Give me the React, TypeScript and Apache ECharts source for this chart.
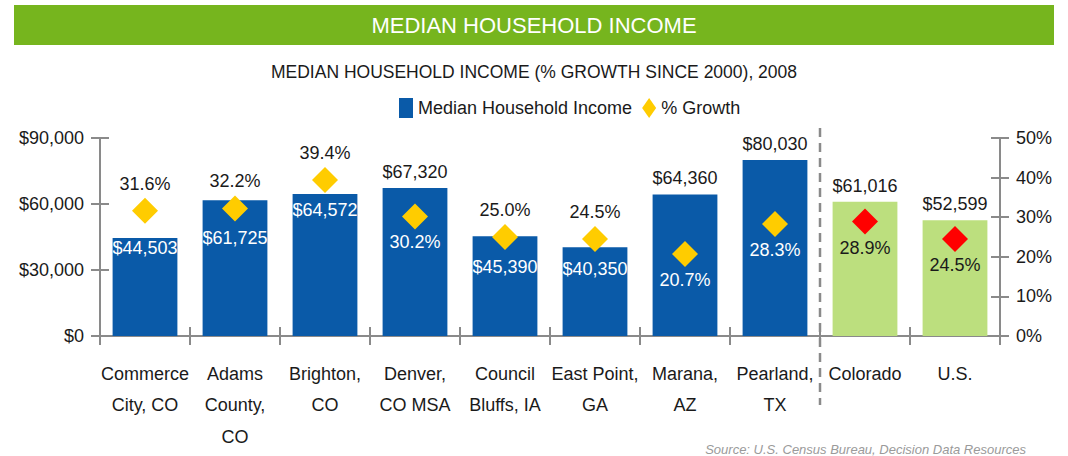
import React, { useEffect, useRef } from "react";
import * as echarts from "echarts";

const categories = [
  "Commerce\nCity, CO",
  "Adams\nCounty,\nCO",
  "Brighton,\nCO",
  "Denver,\nCO MSA",
  "Council\nBluffs, IA",
  "East Point,\nGA",
  "Marana,\nAZ",
  "Pearland,\nTX",
  "Colorado",
  "U.S.",
];
const income = [44503, 61725, 64572, 67320, 45390, 40350, 64360, 80030, 61016, 52599];
const growth = [31.6, 32.2, 39.4, 30.2, 25.0, 24.5, 20.7, 28.3, 28.9, 24.5];
const isBenchmark = [false, false, false, false, false, false, false, false, true, true];
const incomeLabelInside = [true, true, true, false, true, true, false, false, false, false];
const growthLabelAbove = [true, true, true, false, true, true, false, false, false, false];
const incomeTicks = [0, 30000, 60000, 90000];
const growthTicks = [0, 10, 20, 30, 40, 50];

const FONT = "'Liberation Sans Narrow', 'Arial Narrow', 'Liberation Sans', sans-serif";
const BLUE = "#0a5aa8";
const GREEN = "#bcdf7e";
const YELLOW = "#ffcc00";
const RED = "#ff0000";
const AXIS = "#8a8a8a";
const TEXT = "#1a1a1a";
const LABEL_SIZE = 18;
const DIAMOND = 26;

const GRID = { left: 100, right: 68, top: 138, bottom: 120 };

export default function App() {
  const ref = useRef<HTMLDivElement>(null);
  useEffect(() => {
    document.body.style.margin = "0";
    const chart = echarts.init(ref.current!, undefined, { renderer: "svg" });
    const fmtMoney = (v: number) => "$" + Number(v).toLocaleString("en-US");
    const incomeStep = incomeTicks[1] - incomeTicks[0];
    const growthStep = growthTicks[1] - growthTicks[0];
    const commonY = {
      splitLine: { show: false },
      axisLine: { show: true, lineStyle: { color: AXIS, width: 2 } },
      axisTick: { show: true, length: 9, lineStyle: { color: AXIS, width: 2 } },
    };

    const build = (insideDist: number[], dividerX: number | null): any => {
      const graphic: any[] = [
        {
          type: "rect",
          shape: { x: 14, y: 5, width: 1040, height: 40 },
          style: { fill: "#76b51e" },
          silent: true,
        },
        {
          type: "text",
          x: 534,
          y: 25,
          style: {
            text: "MEDIAN HOUSEHOLD INCOME",
            fill: "#ffffff",
            font: `22px ${FONT}`,
            textAlign: "center",
            textVerticalAlign: "middle",
          },
        },
        {
          type: "text",
          right: 42,
          bottom: 0,
          style: {
            text: "Source: U.S. Census Bureau, Decision Data Resources",
            fill: "#9a9a9a",
            font: `italic 13px ${FONT}`,
          },
        },
      ];
      if (dividerX !== null) {
        graphic.push({
          type: "line",
          shape: { x1: dividerX, y1: 128, x2: dividerX, y2: 405 },
          style: { stroke: AXIS, lineWidth: 2.5, lineDash: [9, 6] },
          silent: true,
        });
      }
      return {
        animation: false,
        textStyle: { fontFamily: FONT },
        title: {
          text: "MEDIAN HOUSEHOLD INCOME (% GROWTH SINCE 2000), 2008",
          left: "center",
          top: 58,
          textStyle: { fontFamily: FONT, fontSize: 17.5, fontWeight: "normal", color: TEXT },
        },
        legend: {
          top: 93,
          left: 394,
          itemWidth: 14,
          itemHeight: 20,
          itemGap: 10,
          textStyle: { fontFamily: FONT, fontSize: 18, color: TEXT },
          data: [
            { name: "Median Household Income", icon: "rect" },
            { name: "% Growth", icon: "diamond" },
          ],
        },
        grid: { ...GRID },
        xAxis: [
          {
            type: "category",
            data: categories,
            axisLine: { lineStyle: { color: AXIS, width: 2 } },
            axisTick: { show: true, length: 9, interval: 0, lineStyle: { color: AXIS, width: 2 } },
            axisLabel: {
              interval: 0,
              fontFamily: FONT,
              fontSize: 18,
              lineHeight: 31.5,
              color: TEXT,
              margin: 22,
            },
          },
          {
            type: "category",
            data: categories,
            position: "bottom",
            axisLine: { show: false },
            axisTick: { show: true, inside: true, length: 9, interval: 0, lineStyle: { color: AXIS, width: 2 } },
            axisLabel: { show: false },
          },
        ],
        yAxis: [
          {
            type: "value",
            position: "left",
            min: incomeTicks[0],
            max: incomeTicks[incomeTicks.length - 1],
            interval: incomeStep,
            ...commonY,
            axisLabel: { formatter: fmtMoney, fontFamily: FONT, fontSize: 18, color: TEXT, margin: 16 },
          },
          {
            type: "value",
            position: "right",
            min: growthTicks[0],
            max: growthTicks[growthTicks.length - 1],
            interval: growthStep,
            ...commonY,
            axisLabel: { formatter: "{value}%", fontFamily: FONT, fontSize: 18, color: TEXT, margin: 16 },
          },
          {
            type: "value",
            position: "left",
            min: incomeTicks[0],
            max: incomeTicks[incomeTicks.length - 1],
            interval: incomeStep,
            splitLine: { show: false },
            axisLine: { show: false },
            axisTick: { show: true, inside: true, length: 9, lineStyle: { color: AXIS, width: 2 } },
            axisLabel: { show: false },
          },
          {
            type: "value",
            position: "right",
            min: growthTicks[0],
            max: growthTicks[growthTicks.length - 1],
            interval: growthStep,
            splitLine: { show: false },
            axisLine: { show: false },
            axisTick: { show: true, inside: true, length: 9, lineStyle: { color: AXIS, width: 2 } },
            axisLabel: { show: false },
          },
        ],
        series: [
          {
            name: "Median Household Income",
            type: "bar",
            barCategoryGap: "28%",
            itemStyle: { color: BLUE },
            data: income.map((v, i) => ({
              value: v,
              itemStyle: { color: isBenchmark[i] ? GREEN : BLUE },
              label: incomeLabelInside[i]
                ? { position: "insideTop", distance: insideDist[i], color: "#ffffff" }
                : { position: "top", distance: 7, color: TEXT },
            })),
            label: {
              show: true,
              fontFamily: FONT,
              fontSize: LABEL_SIZE,
              formatter: (p: any) => fmtMoney(p.value),
            },
          },
          {
            name: "% Growth",
            type: "scatter",
            yAxisIndex: 1,
            symbol: "diamond",
            symbolSize: DIAMOND,
            z: 5,
            itemStyle: { color: YELLOW, opacity: 1 },
            data: growth.map((v, i) => ({
              value: v,
              itemStyle: { color: isBenchmark[i] ? RED : YELLOW, opacity: 1 },
              label: growthLabelAbove[i]
                ? { position: "top", distance: 5, color: TEXT }
                : { position: "bottom", distance: 4, color: isBenchmark[i] ? TEXT : "#ffffff" },
            })),
            label: {
              show: true,
              fontFamily: FONT,
              fontSize: LABEL_SIZE,
              formatter: (p: any) => Number(p.value).toFixed(1) + "%",
            },
          },
        ],
        graphic,
      };
    };

    chart.setOption(build(income.map(() => 1), null));
    // Place inside labels below the diamonds, using the axis scales
    const dists = income.map((v, i) => {
      const barTop = chart.convertToPixel({ yAxisIndex: 0 }, v) as number;
      const dia = chart.convertToPixel({ yAxisIndex: 1 }, growth[i]) as number;
      const center = Math.max(barTop + 10, dia + DIAMOND / 2 + 17);
      return Math.max(1, center - LABEL_SIZE / 2 - barTop);
    });
    const a = chart.convertToPixel({ xAxisIndex: 0 }, categories[7]) as number;
    const b = chart.convertToPixel({ xAxisIndex: 0 }, categories[8]) as number;
    chart.setOption(build(dists, (a + b) / 2), { notMerge: true });
    return () => chart.dispose();
  }, []);
  return <div ref={ref} style={{ width: 1068, height: 456 }} />;
}
